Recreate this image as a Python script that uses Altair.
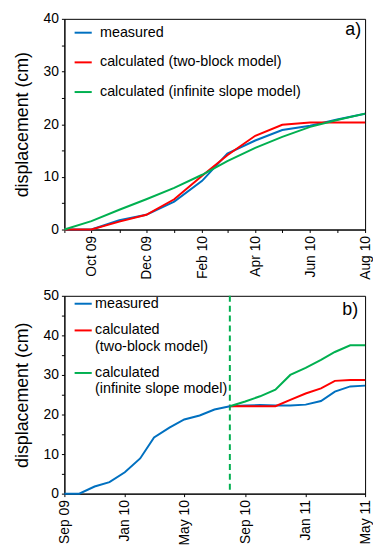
import altair as alt
import pandas as pd

FONT = "Liberation Sans"

series = ["measured", "calculated (two-block model)", "calculated (infinite slope model)"]
colors = ["#0070C0", "#FF0000", "#00B050"]

# panel a: monthly, Sep 09 .. Aug 10
dates_a = ["2009-09-01", "2009-10-01", "2009-11-01", "2009-12-01", "2010-01-01", "2010-02-01",
           "2010-03-01", "2010-04-01", "2010-05-01", "2010-06-01", "2010-07-01", "2010-08-01"]
measured_a = [0, 0, 1.75, 2.8, 5.3, 9.25, 14.4, 16.9, 18.9, 19.7, 20.9, 22.0]
twoblock_a = [0, 0, 1.5, 2.8, 5.75, 10.2, 14.1, 17.8, 19.9, 20.3, 20.3, 20.3]
infinite_a = [0, 1.6, 3.75, 5.75, 7.9, 10.4, 13.0, 15.5, 17.6, 19.5, 20.8, 22.0]

# panel b: monthly, Sep 09 .. May 11
dates_b = ["2009-09-01", "2009-10-01", "2009-11-01", "2009-12-01", "2010-01-01", "2010-02-01",
           "2010-03-01", "2010-04-01", "2010-05-01", "2010-06-01", "2010-07-01", "2010-08-01",
           "2010-09-01", "2010-10-01", "2010-11-01", "2010-12-01", "2011-01-01", "2011-02-01",
           "2011-03-01", "2011-04-01", "2011-05-01"]
measured_b = [0, 0, 1.8, 2.9, 5.4, 8.9, 14.2, 16.7, 18.75, 19.75, 21.25, 22.1,
              22.25, 22.4, 22.3, 22.25, 22.5, 23.4, 25.8, 27.1, 27.3]
dates_b_calc = dates_b[11:]
twoblock_b = [22.1, 22.1, 22.1, 22.1, 23.7, 25.3, 26.6, 28.5, 28.75, 28.75]
infinite_b = [22.1, 23.3, 24.6, 26.25, 30.0, 31.8, 33.8, 35.8, 37.5, 37.5]
split_date = ["2010-08-01"]

a_months = dates_a
b_months = dates_b


def long_df(pairs):
    rows = []
    for name, ds, vs in pairs:
        for d, v in zip(ds, vs):
            rows.append({"date": d, "value": v, "series": name})
    return pd.DataFrame(rows)


df_a = long_df([(series[0], dates_a, measured_a), (series[1], dates_a, twoblock_a),
                (series[2], dates_a, infinite_a)])
df_b = long_df([(series[0], dates_b, measured_b), (series[1], dates_b_calc, twoblock_b),
                (series[2], dates_b_calc, infinite_b)])


def dt(s):
    y, m, d = (int(p) for p in s.split("-"))
    return alt.DateTime(year=y, month=m, date=d, utc=True)


def x_enc(months, label_expr):
    return alt.X(
        "date:T",
        scale=alt.Scale(type="utc", domain=[dt(months[0]), dt(months[-1])]),
        axis=alt.Axis(values=[dt(m) for m in months], labelExpr=label_expr,
                      labelAngle=270, title=None, grid=False, tickSize=3,
                      labelOverlap=False, labelPadding=3),
    )


def y_enc(top):
    return alt.Y(
        "value:Q",
        scale=alt.Scale(domain=[0, top], nice=False, zero=True),
        axis=alt.Axis(values=list(range(0, top + 1, 5)),
                      labelExpr="datum.value % 10 == 0 ? datum.label : ''",
                      title="displacement (cm)", grid=False, tickSize=3,
                      titlePadding=12, labelPadding=3),
    )


legend_common = dict(orient="none", title=None, symbolType="stroke", symbolSize=300,
                     symbolStrokeWidth=2, labelFontSize=14.5, labelFont=FONT,
                     padding=0, labelColor="black", labelLimit=0)

color_a = alt.Color("series:N", scale=alt.Scale(domain=series, range=colors),
                    legend=alt.Legend(legendX=9, legendY=4, rowPadding=13, labelOffset=7,
                                      **legend_common))

color_b = alt.Color("series:N", scale=alt.Scale(domain=series, range=colors),
                    legend=alt.Legend(
                        legendX=9, legendY=-2, rowPadding=10, labelOffset=2,
                        labelExpr=("datum.label == 'calculated (two-block model)' ? "
                                   "['calculated', '(two-block model)'] : "
                                   "datum.label == 'calculated (infinite slope model)' ? "
                                   "['calculated', '(infinite slope model)'] : datum.label"),
                        **legend_common))

lines_a = alt.Chart(df_a).mark_line(strokeWidth=2).encode(
    x=x_enc(a_months, "utcmonth(datum.value) % 2 == 1 ? utcFormat(datum.value, '%b %y') : ''"),
    y=y_enc(40),
    color=color_a,
    order=alt.Order("date:T"),
)
label_a = alt.Chart(pd.DataFrame({"t": ["a)"]})).mark_text(
    align="right", baseline="middle", fontSize=18, font=FONT, color="black"
).encode(text="t:N", x=alt.value(300), y=alt.value(11))

chart_a = alt.layer(lines_a, label_a).properties(width=304, height=213)

lines_b = alt.Chart(df_b).mark_line(strokeWidth=2).encode(
    x=x_enc(b_months, "utcmonth(datum.value) % 4 == 0 ? utcFormat(datum.value, '%b %y') : ''"),
    y=y_enc(50),
    color=color_b,
    order=alt.Order("date:T"),
)
rule_b = alt.Chart(pd.DataFrame({"date": split_date})).mark_rule(
    color="#00B050", strokeDash=[6, 4], strokeWidth=2
).encode(x="date:T")
label_b = alt.Chart(pd.DataFrame({"t": ["b)"]})).mark_text(
    align="right", baseline="middle", fontSize=18, font=FONT, color="black"
).encode(text="t:N", x=alt.value(297), y=alt.value(14))

chart_b = alt.layer(rule_b, lines_b, label_b).properties(width=304, height=200)

chart = alt.vconcat(chart_a, chart_b, spacing=8).resolve_scale(
    color="independent"
).resolve_legend(color="independent").properties(
    padding={"left": 4, "top": 0, "right": 0, "bottom": 0}
).configure_view(stroke="black", strokeWidth=1).configure_axis(
    domainColor="black", tickColor="black", labelColor="black", titleColor="black",
    labelFont=FONT, titleFont=FONT, labelFontSize=14, titleFontSize=18,
    titleFontWeight="normal", domainWidth=1,
)

chart.save("out.html", embed_options={"renderer": "svg", "actions": False})
